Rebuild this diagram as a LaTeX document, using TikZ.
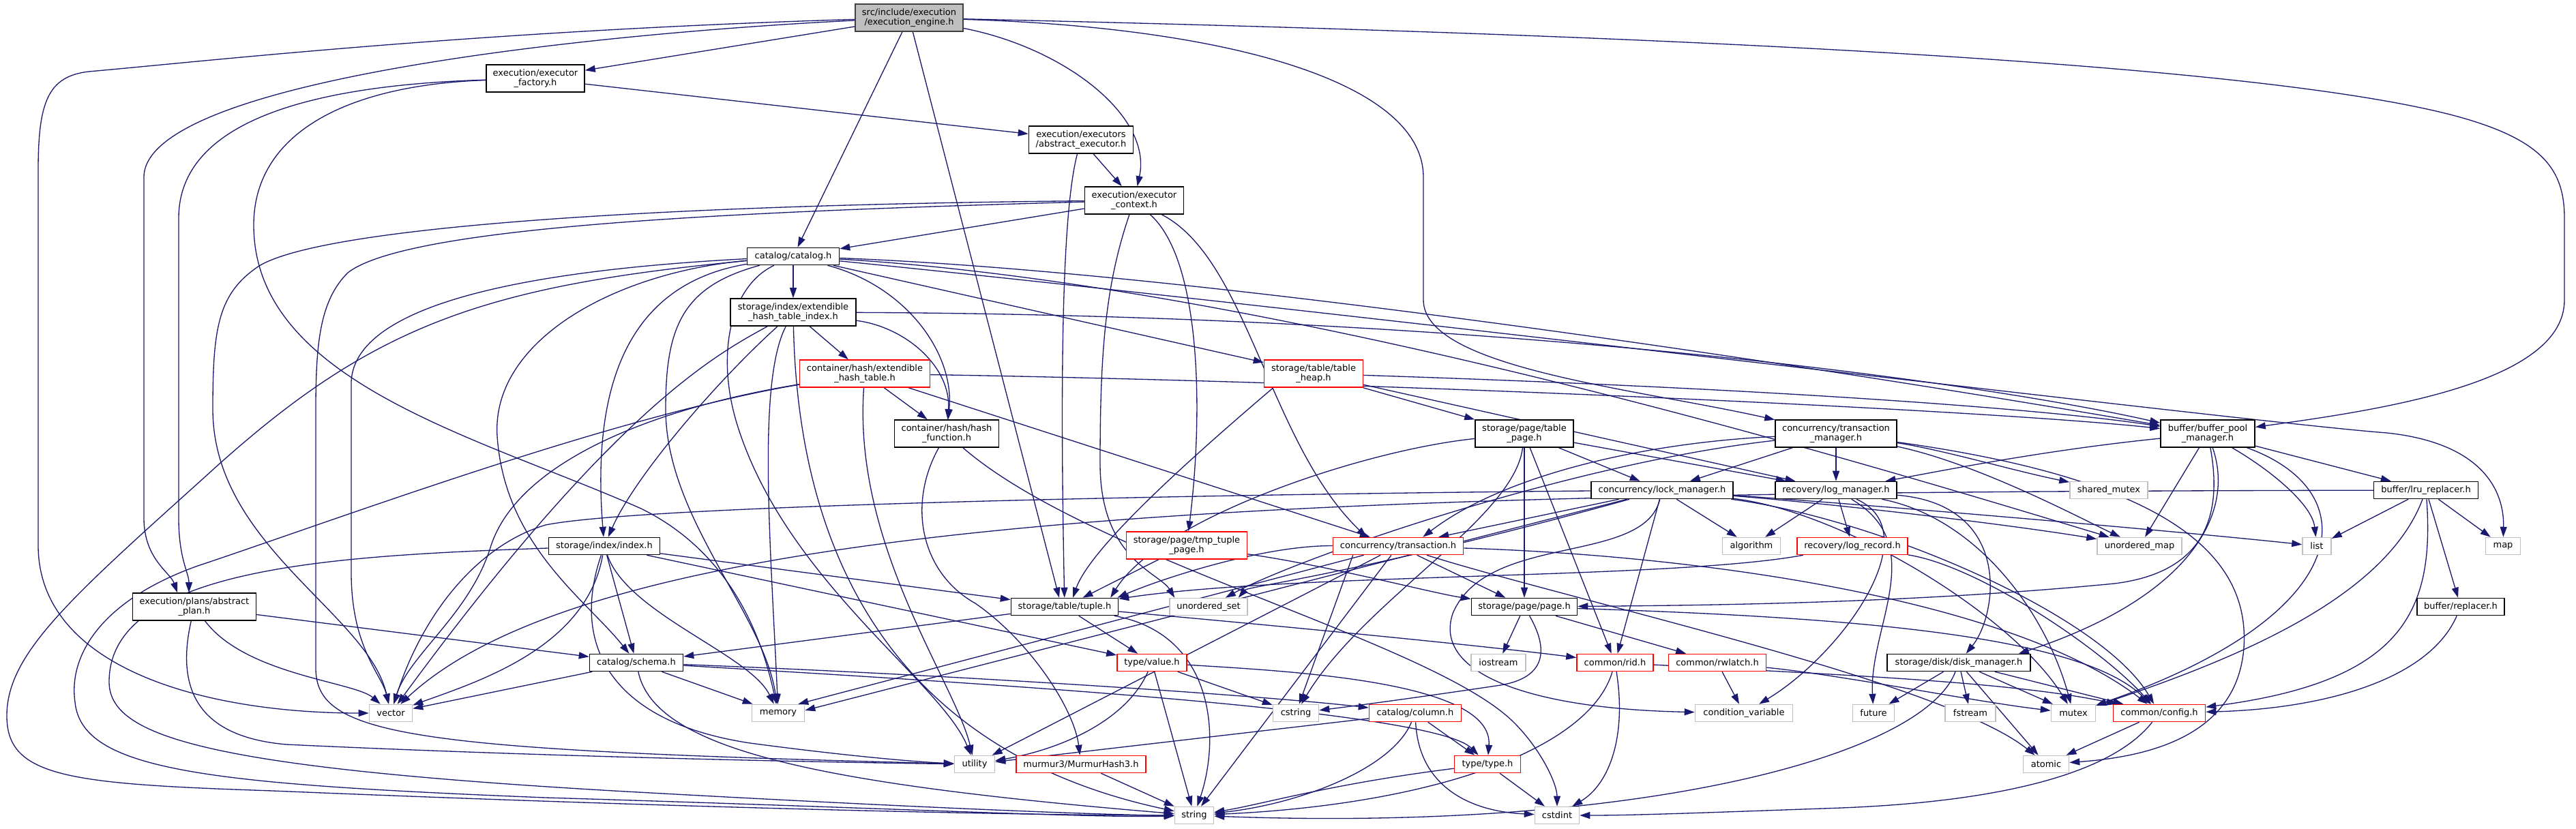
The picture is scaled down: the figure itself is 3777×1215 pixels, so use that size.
\documentclass[tikz,border=0pt]{standalone}
\usepackage{fontspec}
\setmainfont{DejaVu Sans}
\usetikzlibrary{arrows.meta,calc,backgrounds}
\definecolor{edge}{RGB}{25,25,112}
\definecolor{boxgray}{RGB}{191,191,191}
\definecolor{rootline}{RGB}{64,64,64}
\newcommand{\graphfont}{\fontsize{7.4}{8.3}\selectfont}

\begin{document}
\begin{tikzpicture}[x=0.02cm,y=-0.02cm,
    hdrbox/.style={draw=black,line width=0.9pt,fill=white,inner sep=0pt,minimum height=0.5cm,align=center,font=\graphfont},
    twoline/.style={minimum height=0.8cm},
    redbox/.style={hdrbox,draw=red},
    sysbox/.style={hdrbox,draw=boxgray},
    dep/.style={draw=edge,line width=0.75pt,-{Triangle[length=3mm,width=2mm]}}]
  \useasboundingbox (0,0) rectangle (3777,1215);

  % headers
  \node[hdrbox,twoline,fill=boxgray,draw=rootline,minimum width=3.16cm] (root) at (1333,26) {src/include/execution\\/execution\_engine.h};
  \node[hdrbox,twoline,minimum width=2.88cm] (factory) at (785,115) {execution/executor\\\_factory.h};
  \node[hdrbox,twoline,minimum width=3.06cm] (absexec) at (1585,205) {execution/executors\\/abstract\_executor.h};
  \node[hdrbox,twoline,minimum width=2.9cm] (ctx) at (1663,294) {execution/executor\\\_context.h};
  \node[hdrbox,minimum width=2.7cm] (catalog) at (1163,376) {catalog/catalog.h};
  \node[hdrbox,twoline,minimum width=3.68cm] (ehidx) at (1163,458) {storage/index/extendible\\\_hash\_table\_index.h};
  \node[redbox,twoline,minimum width=3.82cm] (eht) at (1268,548) {container/hash/extendible\\\_hash\_table.h};
  \node[redbox,twoline,minimum width=2.9cm] (heap) at (1926,548) {storage/table/table\\\_heap.h};
  \node[hdrbox,twoline,minimum width=3.06cm] (hashfn) at (1388,636) {container/hash/hash\\\_function.h};
  \node[hdrbox,twoline,minimum width=2.88cm] (tpage) at (2235,636) {storage/page/table\\\_page.h};
  \node[hdrbox,twoline,minimum width=3.56cm] (txnmgr) at (2692,636) {concurrency/transaction\\\_manager.h};
  \node[hdrbox,twoline,minimum width=2.76cm] (bpm) at (3237,636) {buffer/buffer\_pool\\\_manager.h};
  \node[hdrbox,minimum width=4.16cm] (lockmgr) at (2437,719) {concurrency/lock\_manager.h};
  \node[hdrbox,minimum width=3.56cm] (logmgr) at (2692,719) {recovery/log\_manager.h};
  \node[sysbox,minimum width=2.28cm] (shmutex) at (3092,719) {shared\_mutex};
  \node[hdrbox,minimum width=3.06cm] (lru) at (3557,719) {buffer/lru\_replacer.h};
  \node[hdrbox,minimum width=3.26cm] (index) at (886,801) {storage/index/index.h};
  \node[redbox,twoline,minimum width=3.54cm] (tmptup) at (1740,800) {storage/page/tmp\_tuple\\\_page.h};
  \node[redbox,minimum width=3.82cm] (txn) at (2050,801) {concurrency/transaction.h};
  \node[sysbox,minimum width=1.7cm] (algorithm) at (2568,801) {algorithm};
  \node[redbox,minimum width=3.24cm] (logrec) at (2716,801) {recovery/log\_record.h};
  \node[sysbox,minimum width=2.48cm] (umap) at (3137,801) {unordered\_map};
  \node[sysbox,minimum width=0.84cm] (list) at (3397,801) {list};
  \node[sysbox,minimum width=1.02cm] (map) at (3670,801) {map};
  \node[hdrbox,twoline,minimum width=3.62cm] (plan) at (285,890) {execution/plans/abstract\\\_plan.h};
  \node[hdrbox,minimum width=3.14cm] (tuple) at (1561,890) {storage/table/tuple.h};
  \node[sysbox,minimum width=2.28cm] (uset) at (1772,890) {unordered\_set};
  \node[hdrbox,minimum width=3.1cm] (page) at (2235,890) {storage/page/page.h};
  \node[hdrbox,minimum width=2.56cm] (replacer) at (3608,890) {buffer/replacer.h};
  \node[hdrbox,minimum width=2.74cm] (schema) at (933,972) {catalog/schema.h};
  \node[redbox,minimum width=2.04cm] (value) at (1689,972) {type/value.h};
  \node[sysbox,minimum width=1.6cm] (iostream) at (2197,972) {iostream};
  \node[redbox,minimum width=2.24cm] (rid) at (2368,972) {common/rid.h};
  \node[redbox,minimum width=2.86cm] (rwlatch) at (2518,972) {common/rwlatch.h};
  \node[hdrbox,minimum width=4.2cm] (disk) at (2872,972) {storage/disk/disk\_manager.h};
  \node[sysbox,minimum width=1.26cm] (vector) at (573,1046) {vector};
  \node[sysbox,minimum width=1.54cm] (memory) at (1141,1046) {memory};
  \node[sysbox,minimum width=1.34cm] (cstring) at (1900,1046) {cstring};
  \node[redbox,minimum width=2.7cm] (column) at (2075,1046) {catalog/column.h};
  \node[sysbox,minimum width=2.86cm] (condvar) at (2557,1046) {condition\_variable};
  \node[sysbox,minimum width=1.22cm] (future) at (2747,1046) {future};
  \node[sysbox,minimum width=1.48cm] (fstream) at (2889,1046) {fstream};
  \node[sysbox,minimum width=1.3cm] (mutex) at (3040,1046) {mutex};
  \node[redbox,minimum width=2.7cm] (config) at (3166,1046) {common/config.h};
  \node[sysbox,minimum width=1.18cm] (utility) at (1429,1121) {utility};
  \node[redbox,minimum width=3.8cm] (murmur) at (1585,1121) {murmur3/MurmurHash3.h};
  \node[redbox,minimum width=1.94cm] (type) at (2181,1121) {type/type.h};
  \node[sysbox,minimum width=1.34cm] (atomic) at (3000,1121) {atomic};
  \node[sysbox,minimum width=1.14cm] (string) at (1751,1196) {string};
  \node[sysbox,minimum width=1.3cm] (cstdint) at (2283,1196) {cstdint};

  \begin{scope}[on background layer]
    \fill[white] (0,0) rectangle (3777,1215);
    % execution_engine.h
    \draw[dep] (root) .. controls (700,45) and (300,90) .. (130,105) .. controls (70,112) and (56,150) .. (56,250) -- (56,800) .. controls (56,980) and (300,1046) .. (vector);
    \draw[dep] (root) .. controls (850,50) and (211,120) .. (211,260) -- (211,760) .. controls (211,820) and (250,840) .. ($(plan.north)+(-25,0)$);
    \draw[dep] (root) -- (factory);
    \draw[dep] (root) -- (catalog);
    \draw[dep] (root) -- ($(tuple.north)+(-8,0)$);
    \draw[dep] (root) .. controls (1560,70) and (1690,170) .. (ctx);
    \draw[dep] (root) .. controls (1800,40) and (2087,120) .. (2087,260) -- (2087,440) .. controls (2087,540) and (2400,570) .. (txnmgr);
    \draw[dep] (root) .. controls (2400,50) and (3300,90) .. (3600,170) .. controls (3730,205) and (3760,250) .. (3760,320) -- (3760,440) .. controls (3760,560) and (3500,600) .. (bpm);
    % executor_factory.h
    \draw[dep] (factory) .. controls (450,125) and (262,180) .. (262,320) -- (262,760) .. controls (262,820) and (277,840) .. ($(plan.north)+(-8,0)$);
    \draw[dep] (factory) .. controls (500,125) and (372,200) .. (372,330) .. controls (372,560) and (700,640) .. (940,746) .. controls (1050,800) and (1110,900) .. (memory);
    \draw[dep] (factory) -- (absexec);
    % abstract_executor.h
    \draw[dep] (absexec) -- (ctx);
    \draw[dep] (absexec) .. controls (1560,300) and (1553,500) .. (tuple);
    % executor_context.h
    \draw[dep] (ctx) -- (catalog);
    \draw[dep] (ctx) .. controls (1000,300) and (480,330) .. (380,390) .. controls (320,430) and (312,480) .. (312,600) .. controls (312,800) and (540,900) .. (vector);
    \draw[dep] (ctx) .. controls (1100,310) and (600,330) .. (510,400) .. controls (470,440) and (463,500) .. (463,600) -- (463,980) .. controls (463,1080) and (600,1100) .. (utility);
    \draw[dep] (ctx) .. controls (1620,420) and (1613,520) .. (1613,680) .. controls (1613,820) and (1700,840) .. ($(uset.north west)+(8,0)$);
    \draw[dep] (ctx) .. controls (1760,380) and (1765,600) .. (tmptup);
    \draw[dep] (ctx) .. controls (1830,380) and (1860,650) .. ($(txn.north west)+(50,0)$);
    % abstract_plan.h
    \draw[dep] (plan) .. controls (360,990) and (520,1000) .. (vector);
    \draw[dep] (plan) -- (schema);
    \draw[dep] (plan) .. controls (260,1000) and (280,1080) .. (420,1092) .. controls (800,1110) and (1200,1118) .. (utility);
    % catalog.h
    \draw[dep] (catalog) -- (ehidx);
    \draw[dep] (catalog) .. controls (1330,420) and (1400,520) .. (hashfn);
    \draw[dep] (catalog) -- (heap);
    \draw[dep] (catalog) .. controls (1800,400) and (2800,560) .. (bpm);
    \draw[dep] (catalog) .. controls (2000,460) and (3300,620) .. (3500,635) .. controls (3640,650) and (3672,720) .. (map);
    \draw[dep] (catalog) .. controls (1900,420) and (2800,700) .. (umap);
    \draw[dep] (catalog) .. controls (900,420) and (870,600) .. (index);
    \draw[dep] (catalog) .. controls (900,400) and (720,500) .. (729,640) .. controls (740,800) and (860,880) .. (schema);
    \draw[dep] (catalog) .. controls (1000,420) and (976,480) .. (976,600) .. controls (976,760) and (1120,900) .. (memory);
    \draw[dep] (catalog) .. controls (700,420) and (540,480) .. (300,700) .. controls (100,880) and (10,960) .. (10,1050) .. controls (10,1140) and (100,1150) .. (400,1160) .. controls (1000,1185) and (1500,1196) .. (string);
    \draw[dep] (catalog) .. controls (1070,420) and (1050,520) .. (1080,620) .. controls (1150,850) and (1380,1000) .. (utility);
    \draw[dep] (catalog) .. controls (800,395) and (520,440) .. (515,560) -- (515,840) .. controls (515,950) and (560,990) .. (vector);
    % extendible_hash_table_index.h
    \draw[dep] (ehidx) -- (eht);
    \draw[dep] (ehidx) .. controls (1330,480) and (1395,540) .. (hashfn);
    \draw[dep] (ehidx) .. controls (2200,462) and (2900,560) .. (bpm);
    \draw[dep] (ehidx) .. controls (1050,560) and (930,700) .. (index);
    \draw[dep] (ehidx) .. controls (1050,520) and (900,600) .. (vector);
    \draw[dep] (ehidx) .. controls (1110,560) and (1130,800) .. (memory);
    \draw[dep] (ehidx) .. controls (1170,800) and (1300,1100) .. (string);
    % extendible_hash_table.h
    \draw[dep] (eht) -- (hashfn);
    \draw[dep] (eht) .. controls (2000,560) and (2900,600) .. (bpm);
    \draw[dep] (eht) -- (txn);
    \draw[dep] (eht) .. controls (950,600) and (760,680) .. (720,800) .. controls (690,900) and (600,960) .. (vector);
    \draw[dep] (eht) .. controls (1250,800) and (1400,1000) .. (utility);
    \draw[dep] (eht) .. controls (900,610) and (500,760) .. (290,830) .. controls (150,880) and (100,960) .. (110,1030) .. controls (120,1130) and (300,1150) .. (800,1170) .. controls (1300,1185) and (1600,1200) .. (string);
    % hash_function.h
    \draw[dep] (hashfn) .. controls (1330,740) and (1350,840) .. (1430,885) .. controls (1510,940) and (1575,1040) .. (murmur);
    \draw[dep] (hashfn) .. controls (1600,820) and (2100,940) .. (2220,1060) .. controls (2260,1100) and (2283,1150) .. (cstdint);
    % table_heap.h
    \draw[dep] (heap) -- (tpage);
    \draw[dep] (heap) .. controls (2600,570) and (3000,600) .. (bpm);
    \draw[dep] (heap) -- (logmgr);
    \draw[dep] ($(heap.south west)+(14,0)$) .. controls (1760,660) and (1600,800) .. ($(tuple.north)+(12,0)$);
    % table_page.h
    \draw[dep] (tpage) -- (page);
    \draw[dep] (tpage) -- (lockmgr);
    \draw[dep] (tpage) -- (logmgr);
    \draw[dep] (tpage) -- (rid);
    \draw[dep] (tpage) .. controls (2000,660) and (1700,760) .. ($(tuple.north east)+(-12,0)$);
    \draw[dep] (tpage) .. controls (2220,760) and (2000,880) .. (cstring);
    % transaction_manager.h
    \draw[dep] (txnmgr) -- (lockmgr);
    \draw[dep] (txnmgr) -- (logmgr);
    \draw[dep] (txnmgr) .. controls (2400,650) and (2200,700) .. ($(txn.north east)+(-60,0)$);
    \draw[dep] (txnmgr) .. controls (2300,680) and (1900,820) .. ($(uset.north east)+(-33,0)$);
    \draw[dep] (txnmgr) .. controls (2850,660) and (2950,690) .. (shmutex);
    \draw[dep] (txnmgr) .. controls (2900,680) and (3050,760) .. (umap);
    \draw[dep] (txnmgr) .. controls (3150,700) and (3300,800) .. (3290,950) .. controls (3280,1080) and (3150,1110) .. (atomic);
    % buffer_pool_manager.h
    \draw[dep] (bpm) -- (lru);
    \draw[dep] (bpm) .. controls (3330,690) and (3390,740) .. (list);
    \draw[dep] (bpm) -- (umap);
    \draw[dep] (bpm) .. controls (3260,760) and (3230,840) .. (3100,856) .. controls (2800,885) and (2500,888) .. (page);
    \draw[dep] (bpm) .. controls (3280,760) and (3200,880) .. ($(disk.north east)+(-18,0)$);
    \draw[dep] (bpm) .. controls (3470,720) and (3460,900) .. (mutex);
    \draw[dep] (bpm) .. controls (3000,660) and (2850,690) .. (logmgr);
    % lock_manager.h
    \draw[dep] (lockmgr) -- ($(txn.north east)+(-37,0)$);
    \draw[dep] (lockmgr) -- (algorithm);
    \draw[dep] (lockmgr) -- (rid);
    \draw[dep] (lockmgr) .. controls (2410,830) and (2180,780) .. (2130,900) .. controls (2100,990) and (2250,1040) .. (condvar);
    \draw[dep] (lockmgr) -- ($(memory.east)+(0,-4)$);
    \draw[dep] (lockmgr) .. controls (1800,725) and (950,740) .. (800,770) .. controls (700,800) and (620,900) .. (vector);
    \draw[dep] (lockmgr) .. controls (2000,840) and (1830,860) .. ($(uset.north east)+(-14,0)$);
    \draw[dep] (lockmgr) .. controls (2700,740) and (2950,770) .. (umap);
    \draw[dep] (lockmgr) .. controls (2800,745) and (3200,780) .. (list);
    \draw[dep] (lockmgr) .. controls (2700,750) and (2950,900) .. (mutex);
    \draw[dep] (lockmgr) .. controls (2750,760) and (3080,900) .. (config);
    % log_manager.h
    \draw[dep] (logmgr) -- (algorithm);
    \draw[dep] (logmgr) -- (logrec);
    \draw[dep] (logmgr) .. controls (2830,780) and (2700,960) .. (condvar);
    \draw[dep] (logmgr) .. controls (2830,800) and (2740,920) .. (future);
    \draw[dep] (logmgr) .. controls (2900,760) and (3000,900) .. (mutex);
    \draw[dep] (logmgr) .. controls (2950,740) and (2930,900) .. (disk);
    % log_record.h
    \draw[dep] (logrec) .. controls (2450,850) and (1900,840) .. (tuple);
    \draw[dep] (logrec) .. controls (2900,830) and (3080,950) .. (config);
    % lru_replacer.h
    \draw[dep] (lru) -- (list);
    \draw[dep] (lru) -- (map);
    \draw[dep] (lru) -- (replacer);
    \draw[dep] (lru) .. controls (3500,870) and (3300,960) .. (mutex);
    \draw[dep] (lru) .. controls (3570,900) and (3520,1000) .. (config);
    \draw[dep] (lru) .. controls (2000,722) and (900,740) .. (vector);
    \draw[dep] (replacer) .. controls (3560,1000) and (3400,1040) .. (config);
    % tmp_tuple_page.h
    \draw[dep] (tmptup) -- (tuple);
    \draw[dep] (tmptup) .. controls (1950,830) and (2100,870) .. (page);
    % transaction.h
    \draw[dep] (txn) -- (page);
    \draw[dep] (txn) .. controls (1850,800) and (1700,850) .. ($(tuple.north east)+(-2,0)$);
    \draw[dep] (txn) -- ($(memory.north east)+(-10,0)$);
    \draw[dep] (txn) -- (utility);
    \draw[dep] (txn) -- (string);
    \draw[dep] ($(txn.south west)+(30,0)$) -- (cstring);
    \draw[dep] (txn) .. controls (2500,815) and (2950,880) .. (config);
    \draw[dep] (txn) .. controls (2300,880) and (2850,1000) .. (atomic);
    % tuple.h
    \draw[dep] (tuple) -- (schema);
    \draw[dep] (tuple) -- (value);
    \draw[dep] (tuple) .. controls (1780,930) and (1790,1080) .. (string);
    \draw[dep] (tuple) .. controls (1900,920) and (2200,950) .. (rid);
    % index.h
    \draw[dep] (index) -- (tuple);
    \draw[dep] (index) -- (value);
    \draw[dep] (index) -- (schema);
    \draw[dep] (index) .. controls (860,950) and (700,1000) .. (vector);
    \draw[dep] (index) .. controls (920,900) and (1100,960) .. (memory);
    \draw[dep] (index) .. controls (835,950) and (900,1060) .. (1100,1090) .. controls (1250,1110) and (1350,1118) .. (utility);
    \draw[dep] (index) .. controls (500,815) and (160,830) .. (160,1000) .. controls (160,1080) and (300,1125) .. (900,1160) .. controls (1400,1188) and (1650,1196) .. (string);
    % schema.h
    \draw[dep] (schema) -- (vector);
    \draw[dep] (schema) -- (memory);
    \draw[dep] (schema) .. controls (960,1100) and (1200,1150) .. (string);
    \draw[dep] (schema) .. controls (1400,990) and (1850,1020) .. (column);
    \draw[dep] (schema) .. controls (1400,1000) and (2100,1040) .. (type);
    % value.h
    \draw[dep] (value) -- (cstring);
    \draw[dep] (value) .. controls (1650,1060) and (1550,1100) .. (utility);
    \draw[dep] (value) -- (string);
    \draw[dep] (value) .. controls (1900,985) and (2190,1000) .. (type);
    \draw[dep] (murmur) -- (string);
    % column.h, type.h
    \draw[dep] (column) -- (type);
    \draw[dep] (column) .. controls (2080,1150) and (2150,1190) .. (cstdint);
    \draw[dep] (column) .. controls (2040,1130) and (1900,1180) .. (string);
    \draw[dep] (column) -- (utility);
    \draw[dep] (type) -- (cstdint);
    \draw[dep] (type) .. controls (1950,1150) and (1850,1180) .. (string);
    % rid.h, rwlatch.h
    \draw[dep] (rid) .. controls (2330,1100) and (2100,1180) .. (string);
    \draw[dep] (rid) .. controls (2385,1080) and (2360,1150) .. (cstdint);
    \draw[dep] (rid) .. controls (2700,990) and (2950,1000) .. (config);
    \draw[dep] (rwlatch) -- (condvar);
    \draw[dep] (rwlatch) .. controls (2700,990) and (2900,1030) .. (mutex);
    % page.h
    \draw[dep] (page) -- (iostream);
    \draw[dep] (page) .. controls (2275,960) and (2260,995) .. (2200,1005) .. controls (2100,1020) and (1990,1035) .. (cstring);
    \draw[dep] (page) -- (rwlatch);
    \draw[dep] (page) .. controls (2700,905) and (3050,930) .. (config);
    % disk_manager.h
    \draw[dep] (disk) -- (fstream);
    \draw[dep] (disk) -- (atomic);
    \draw[dep] (disk) -- (mutex);
    \draw[dep] (disk) -- (config);
    \draw[dep] (disk) -- (future);
    \draw[dep] (disk) .. controls (2820,1110) and (2400,1220) .. (string);
    % config.h
    \draw[dep] (config) -- (atomic);
    \draw[dep] (config) .. controls (3100,1130) and (2950,1175) .. (2700,1185) .. controls (2500,1192) and (2400,1196) .. (cstdint);
  \end{scope}
\end{tikzpicture}
\end{document}
